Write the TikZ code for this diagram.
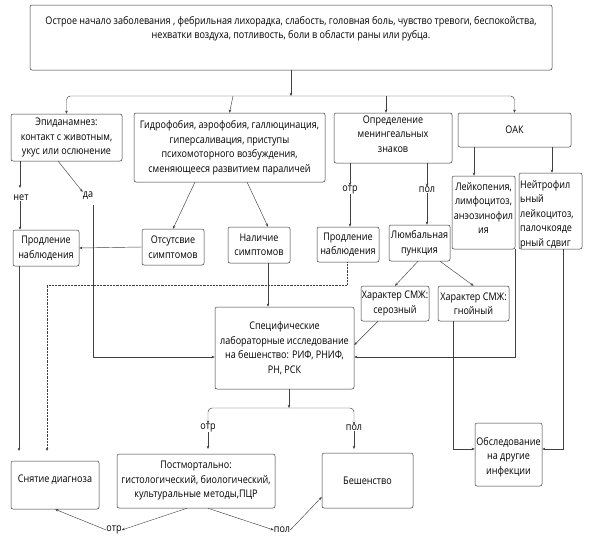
\documentclass[tikz,border=0pt]{standalone}
\usepackage{fontspec}
\usetikzlibrary{arrows.meta}
\newfontfamily\df{Open Sans}[FakeStretch=0.86]
\tikzset{
  box/.style={draw=black!80, rounded corners=2pt, line width=0.5pt, inner sep=0pt},
  txt/.style={align=center, inner sep=0pt, font=\df\fontsize{10.5}{14.5}\selectfont},
  conn/.style={draw=black!75, line width=0.45pt},
  arr/.style={conn, -{Stealth[length=3.2pt,width=2.6pt]}},
  dots/.style={conn, densely dotted}
}
\begin{document}
\begin{tikzpicture}[x=1pt,y=-1pt]
\useasboundingbox (0,0) rectangle (592,544);
% boxes
\node[box, minimum width=522pt, minimum height=65pt] (top) at (291,37.5) {};
\node[txt] (toptxt) at (291,28.5) {Острое начало заболевания , фебрильная лихорадка, слабость, головная боль, чувство тревоги, беспокойства,\\нехватки воздуха, потливость, боли в области раны или рубца.};
\node[box, txt, minimum width=111pt, minimum height=47pt] (epid) at (66.5,137.5) {Эпиданамнез:\\контакт с животным,\\укус или ослюнение};
\node[box, txt, minimum width=191pt, minimum height=69pt] (gidro) at (229.5,147.5) {Гидрофобия, аэрофобия, галлюцинация,\\гиперсаливация, приступы\\психомоторного возбуждения,\\сменяющееся развитием параличей};
\node[box, minimum width=118pt, minimum height=50pt] (opr) at (393,138) {};
\node[txt] (oprtxt) at (393,134) {Определение\\менингеальных\\знаков};
\node[box, txt, minimum width=113pt, minimum height=34pt] (oak) at (514.5,130) {ОАК};
\node[box, minimum width=63pt, minimum height=73pt] (leiko) at (483.5,212.5) {};
\node[txt] (leikotxt) at (483.5,208) {Лейкопения,\\лимфоцитоз,\\анэозинофил\\ия};
\node[box, minimum width=63pt, minimum height=76pt] (neut) at (550.5,211) {};
\node[txt, align=left, anchor=west] (neuttxt) at (520,214.5) {Нейтрофил\\ьный\\лейкоцитоз,\\палочкояде\\рный сдвиг};
\node[box, txt, minimum width=66pt, minimum height=36pt] (prodL) at (46,248) {Продление\\наблюдения};
\node[box, txt, minimum width=62pt, minimum height=36pt] (ots) at (173,247) {Отсутсвие\\симптомов};
\node[box, txt, minimum width=62pt, minimum height=36pt] (nal) at (259,245) {Наличие\\симптомов};
\node[box, txt, minimum width=62pt, minimum height=35pt] (prodM) at (348,244.5) {Продление\\наблюдения};
\node[box, txt, minimum width=61pt, minimum height=36pt] (lumb) at (419.5,243) {Люмбальная\\пункция};
\node[box, txt, minimum width=68pt, minimum height=35pt] (ser) at (395,303.5) {Характер СМЖ:\\серозный};
\node[box, txt, minimum width=71pt, minimum height=35pt] (gnoi) at (473.5,303.5) {Характер СМЖ:\\гнойный};
\node[box, txt, minimum width=139pt, minimum height=82pt] (spec) at (284.5,348) {Специфические\\лабораторные исследование\\на бешенство: РИФ, РНИФ,\\РН, РСК};
\node[box, minimum width=67pt, minimum height=63pt] (obsl) at (508.5,454.5) {};
\node[txt] (obsltxt) at (508.5,457) {Обследование\\на другие\\инфекции};
\node[box, minimum width=88pt, minimum height=48pt] (snyat) at (55,485) {};
\node[txt] (snyattxt) at (55,480) {Снятие диагноза};
\node[box, txt, minimum width=158pt, minimum height=54pt] (postm) at (196,481) {Постмортально:\\гистологический, биологический,\\культуральные методы,ПЦР};
\node[box, txt, minimum width=91pt, minimum height=55pt] (besh) at (367.5,480.5) {Бешенство};
% labels
\node[txt] (net) at (21,198) {нет};
\node[txt] (da) at (88,196) {да};
\node[txt] (otr1) at (350,190) {отр};
\node[txt] (pol1) at (427,190) {пол};
\node[txt] (otr2) at (208,428) {отр};
\node[txt] (pol2) at (354,428) {пол};
\node[txt] (otr3) at (114,530) {отр};
\node[txt] (pol3) at (282,530) {пол};
% bus coordinates
\coordinate (busM) at (291,96);
\coordinate (busG) at (233,96);
\coordinate (busO) at (386,96);
\coordinate (busB) at (289,408);
% top bus
\draw[arr] (top.south -| busM) -- (busM);
\draw[arr, rounded corners=4pt] (busM) -| (epid.north);
\draw[arr, rounded corners=4pt] (busM) -| (oak.north);
\draw[arr] (busG) -- (gidro.north);
\draw[arr] (busO) -- (busO |- opr.north);
% epidanamnesis
\draw[arr] (epid.south -| 20,0) -- (20,188);
\draw[arr] (net.south -| 20,0) -- (prodL.north -| 20,0);
\draw[arr] (58,161) -- (da.north west);
\draw[arr] (93,205) |- (spec.west |- 0,357);
\draw[arr] (prodL.south -| 19,0) -- (19,451);
% gidro
\draw[arr] (195,182) -- (ots.north);
\draw[arr] (247,182) -- (nal.north -| 268,0);
\draw[arr] (ots.west) -- (prodL.east);
\draw[arr] (nal.south -| 268,0) -- (spec.north -| 268,0);
% opredelenie
\draw[arr] (opr.south -| otr1) -- (otr1.north);
\draw[arr] (otr1.south) -- (prodM.north -| otr1);
\draw[arr] (opr.south -| pol1) -- (pol1.north);
\draw[arr] (pol1.south) -- (lumb.north -| pol1);
\draw[dots, -{Stealth[length=3.2pt,width=2.6pt]}] (prodM.south -| 347,0) |- (47,285) -- (47,451);
% lumbal
\draw[arr] (lumb.south -| 418,0) -- (ser.north);
\draw[arr] (lumb.south -| 440,0) -- (gnoi.north);
\draw[arr] (ser.south -| 378,0) -- (spec.east |- 0,345);
\draw[arr] (gnoi.south -| 453,0) |- (obsl.west |- 0,449);
% OAK
\draw[arr] (oak.south -| 474,0) -- (leiko.north -| 474,0);
\draw[arr] (oak.south -| 552,0) -- (neut.north -| 552,0);
\draw[arr] (leiko.south -| 515,0) |- (spec.east |- 0,357);
\draw[arr] (neut.south -| 563,0) |- (obsl.east |- 0,449);
% spec results
\draw[arr] (spec.south -| busB) -- (busB);
\draw[arr, rounded corners=4pt] (busB) -| (otr2.north);
\draw[arr, rounded corners=4pt] (busB) -| (pol2.north);
\draw[arr] (otr2.south) -- (208,449);
\draw[arr] (pol2.south) -- (354,449);
% postmortem
\draw[arr] (postm.south -| 187,0) -- (otr3.east);
\draw[arr] (postm.south -| 208,0) -- (pol3.west);
\draw[arr] (pol3.east) -- (besh.south west |- 0,497);
\draw[arr] (otr3.west) -- (snyat.south);
\end{tikzpicture}
\end{document}
